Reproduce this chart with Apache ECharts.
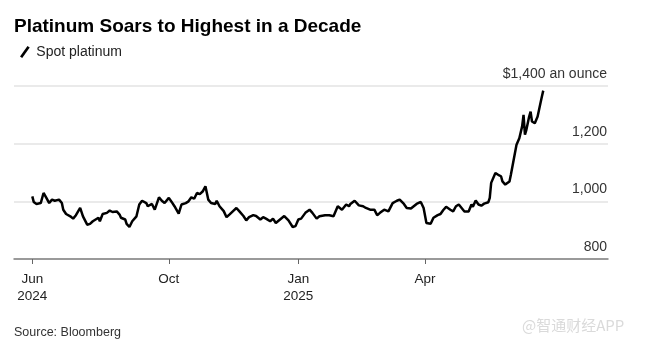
<!DOCTYPE html>
<html>
<head>
<meta charset="utf-8">
<script src="https://cdn.jsdelivr.net/npm/echarts@6/dist/echarts.min.js"></script>
<style>
html,body{margin:0;padding:0;background:#fff;}
#chart{width:649px;height:356px;}
</style>
</head>
<body>
<div id="chart"></div>
<script>
// ---- data ----
const dates = [
'2024-06-26','2024-06-27','2024-06-29','2024-06-30','2024-07-02','2024-07-04','2024-07-06','2024-07-08','2024-07-10','2024-07-12',
'2024-07-15','2024-07-17','2024-07-18','2024-07-20','2024-07-23','2024-07-25','2024-07-27','2024-07-30','2024-08-01','2024-08-04',
'2024-08-06','2024-08-08','2024-08-10','2024-08-12','2024-08-13','2024-08-15','2024-08-18','2024-08-20','2024-08-22','2024-08-25',
'2024-08-27','2024-08-28','2024-08-31','2024-09-01','2024-09-03','2024-09-05','2024-09-08','2024-09-10','2024-09-12','2024-09-15',
'2024-09-16','2024-09-19','2024-09-21','2024-09-24','2024-09-26','2024-09-28','2024-10-01','2024-10-03','2024-10-05','2024-10-08',
'2024-10-10','2024-10-13','2024-10-15','2024-10-17','2024-10-19','2024-10-21','2024-10-23','2024-10-25','2024-10-27','2024-10-29',
'2024-10-31','2024-11-03','2024-11-04','2024-11-06','2024-11-09','2024-11-11','2024-11-13','2024-11-16','2024-11-18','2024-11-20',
'2024-11-23','2024-11-25','2024-11-27','2024-11-30','2024-12-02','2024-12-05','2024-12-07','2024-12-09','2024-12-12','2024-12-14',
'2024-12-16','2024-12-19','2024-12-22','2024-12-25','2024-12-28','2024-12-30','2025-01-01','2025-01-03','2025-01-06','2025-01-09',
'2025-01-11','2025-01-14','2025-01-16','2025-01-20','2025-01-23','2025-01-26','2025-01-29','2025-01-30','2025-02-01','2025-02-04',
'2025-02-06','2025-02-07','2025-02-10','2025-02-13','2025-02-16','2025-02-18','2025-02-21','2025-02-24','2025-02-26','2025-02-28',
'2025-03-03','2025-03-06','2025-03-09','2025-03-12','2025-03-14','2025-03-17','2025-03-19','2025-03-22','2025-03-24','2025-03-26',
'2025-03-29','2025-03-31','2025-04-02','2025-04-05','2025-04-07','2025-04-10','2025-04-12','2025-04-14','2025-04-16','2025-04-19',
'2025-04-21','2025-04-23','2025-04-25','2025-04-27','2025-04-29','2025-05-02','2025-05-04','2025-05-05','2025-05-07','2025-05-09',
'2025-05-11','2025-05-13','2025-05-16','2025-05-17','2025-05-18','2025-05-21','2025-05-23','2025-05-25','2025-05-26','2025-05-28',
'2025-05-31','2025-06-01','2025-06-03','2025-06-05','2025-06-07','2025-06-09','2025-06-10','2025-06-11','2025-06-12','2025-06-14',
'2025-06-15','2025-06-16','2025-06-18','2025-06-20','2025-06-22','2025-06-23','2025-06-24'
];
const spotPlatinum = [
1017,998,991,985,994,1029,1012,994,1006,1002,
1006,994,971,956,948,940,952,977,948,919,
922,931,937,943,931,956,960,968,963,965,
954,943,937,922,911,931,948,989,1002,994,
983,991,971,1014,1002,994,1012,998,983,957,
989,994,1000,1014,1009,1029,1025,1034,1052,1006,
994,991,1002,983,966,945,954,968,977,966,
949,934,945,952,949,937,945,940,931,940,
925,937,949,934,911,914,937,940,960,971,
960,940,948,952,952,948,983,977,971,989,
983,991,1002,986,983,977,971,971,952,960,
971,965,994,1002,1006,991,977,975,983,991,
998,977,925,922,943,952,956,970,981,971,
965,983,989,977,965,965,989,981,1003,989,
985,992,997,1012,1064,1098,1092,1087,1069,1058,
1069,1092,1144,1196,1219,1260,1300,1231,1248,1294,
1311,1277,1271,1294,1340,1363,1384
];
const xTickDates = ['2024-06-26','2024-10-01','2025-01-01','2025-04-01'];
const xTickLabels = ['Jun\n2024','Oct','Jan\n2025','Apr'];
const xRange = ['2024-06-13','2025-08-09'];
const yTicks = [800, 1000, 1200, 1400];
const yTopLabel = '$1,400 an ounce';
const seriesName = 'Spot platinum';

// ---- chart ----
const FONT = '"Liberation Sans", Arial, sans-serif';
const toTs = s => { const p = s.split('-').map(Number); return Date.UTC(p[0], p[1]-1, p[2]); };
const tickTs = xTickDates.map(toTs);
const chart = echarts.init(document.getElementById('chart'), null, {renderer:'canvas'});
chart.setOption({
  animation: false,
  backgroundColor: '#fff',
  title: {
    text: 'Platinum Soars to Highest in a Decade',
    left: 9, top: 12,
    textStyle: {fontFamily: FONT, fontSize: 19, fontWeight: 'bold', color: '#000'}
  },
  legend: {
    left: 15, top: 40,
    itemWidth: 11, itemHeight: 12,
    icon: 'path://M0,12 L8.5,0 L11,1.6 L2.5,13.6 Z',
    data: [seriesName],
    textStyle: {fontFamily: FONT, fontSize: 14, color: '#222', padding: [0,0,0,1]}
  },
  graphic: [
    {type: 'text', left: 14, top: 326,
     style: {text: 'Source: Bloomberg', font: '12.5px ' + FONT, fill: '#333'}},
    {type: 'text', left: 522, top: 318,
     style: {text: '@智通财经APP', font: '15px "Noto Sans CJK SC", sans-serif', fill: '#dadada'}}
  ],
  grid: {left: 14, right: 41, top: 86, bottom: 97, containLabel: false},
  xAxis: {
    type: 'value',
    min: toTs(xRange[0]), max: toTs(xRange[1]),
    axisLine: {show: true, lineStyle: {color: '#808080', width: 1.5}},
    axisTick: {show: true, length: 5, customValues: tickTs, lineStyle: {color: '#666', width: 1}},
    splitLine: {show: false},
    axisLabel: {
      customValues: tickTs,
      margin: 12,
      fontFamily: FONT, fontSize: 13.5, lineHeight: 17, color: '#222',
      formatter: v => { const i = tickTs.indexOf(v); return i >= 0 ? xTickLabels[i] : ''; }
    }
  },
  yAxis: {
    type: 'value', position: 'right',
    min: yTicks[0], max: yTicks[yTicks.length-1], interval: 200,
    axisLine: {show: false}, axisTick: {show: false},
    splitLine: {show: true, lineStyle: {color: '#e3e3e3', width: 1.5}},
    axisLabel: {
      inside: true, margin: 1,
      fontFamily: FONT, fontSize: 14, color: '#333',
      verticalAlign: 'bottom', lineHeight: 14, padding: [0,0,5,0],
      formatter: v => v === 1400 ? yTopLabel : v.toLocaleString('en-US')
    }
  },
  series: [{
    name: seriesName, type: 'line',
    data: dates.map((d, i) => [toTs(d), spotPlatinum[i]]),
    showSymbol: false, symbol: 'none',
    lineStyle: {color: '#000', width: 2.5},
    itemStyle: {color: '#000'}
  }]
});
</script>
</body>
</html>
